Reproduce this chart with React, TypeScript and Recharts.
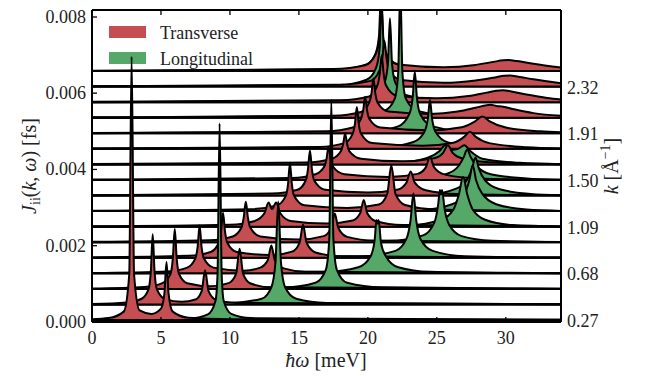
import { ComposedChart, Area, XAxis, YAxis } from "recharts";

// wave numbers of the 17 curves, bottom to top [1/Å]
const kValues = [0.27, 0.41, 0.54, 0.68, 0.82, 0.95, 1.09, 1.23, 1.37, 1.5, 1.64, 1.78, 1.91, 2.05, 2.19, 2.32, 2.46];

// J(k, w), [w meV, J in 1e-4 fs], one list per k
const transverse: number[][][] = [
  [[0, 0.2], [1.2, 0.5], [2.3, 2.2], [2.7, 12], [2.87, 69], [3.05, 12], [3.45, 2.5], [4.3, 1.6], [5.0, 3], [5.25, 7], [5.4, 15.2], [5.55, 7], [5.85, 2.2], [7, 0.6], [10, 0.2], [34, 0.05]],
  [[0, 0.1], [2.5, 0.5], [3.6, 1.5], [4.1, 4], [4.27, 9], [4.4, 18.4], [4.53, 9], [4.7, 4], [5.3, 1.4], [6.5, 0.7], [7.5, 1.3], [7.95, 3.5], [8.2, 9], [8.45, 3.5], [9, 1.2], [10.5, 0.4], [34, 0.05]],
  [[0, 0.1], [3.8, 0.5], [5.1, 1.5], [5.7, 4], [5.86, 8], [6.0, 15.7], [6.14, 8], [6.3, 4], [6.9, 1.5], [8.6, 0.7], [9.9, 1.5], [10.45, 4], [10.7, 10.5], [10.95, 4], [11.5, 1.4], [13, 0.4], [34, 0.05]],
  [[0, 0.1], [5.5, 0.5], [6.9, 1.5], [7.5, 4], [7.66, 7], [7.8, 12.6], [7.94, 7], [8.1, 4], [8.8, 1.5], [11, 0.7], [12.2, 1.5], [12.75, 3.5], [13.0, 7.3], [13.25, 3.5], [13.9, 1.3], [15.5, 0.4], [34, 0.05]],
  [[0, 0.1], [7, 0.5], [8.6, 1.5], [9.2, 4], [9.36, 7], [9.5, 11.8], [9.64, 7], [9.8, 4], [10.5, 1.5], [13, 0.7], [14.5, 1.6], [15.05, 4], [15.3, 8.7], [15.55, 4], [16.2, 1.4], [18, 0.4], [34, 0.05]],
  [[0, 0.1], [8.5, 0.5], [10.2, 1.5], [10.85, 4], [11.0, 6.5], [11.15, 10.6], [11.3, 6.5], [11.45, 4], [12.2, 1.5], [15, 0.7], [16.8, 1.6], [17.35, 3.8], [17.6, 7.5], [17.85, 3.8], [18.5, 1.4], [20.5, 0.4], [34, 0.05]],
  [[0, 0.1], [10, 0.5], [11.8, 1.5], [12.5, 3.5], [12.8, 6.3], [13.05, 4.6], [13.35, 6.3], [13.65, 3.5], [14.4, 1.5], [17, 0.8], [18.9, 1.6], [19.45, 3.6], [19.7, 7], [19.95, 3.6], [20.6, 1.4], [22.5, 0.4], [34, 0.05]],
  [[0, 0.1], [11.5, 0.5], [13.4, 1.5], [14.05, 4], [14.21, 7], [14.35, 12.6], [14.49, 7], [14.65, 4], [15.4, 1.5], [18.5, 0.8], [20.8, 1.7], [21.4, 4.5], [21.7, 12], [22.0, 4.5], [22.7, 1.6], [25, 0.4], [34, 0.05]],
  [[0, 0.1], [13, 0.5], [14.9, 1.5], [15.5, 4], [15.66, 7], [15.8, 11.8], [15.94, 7], [16.1, 4], [16.9, 1.5], [20, 0.8], [22.2, 1.6], [22.8, 3.4], [23.1, 6.3], [23.4, 3.4], [24.2, 1.4], [26.5, 0.4], [34, 0.05]],
  [[0, 0.1], [14.5, 0.5], [16.2, 1.5], [16.85, 3.6], [17.0, 5.5], [17.15, 8.7], [17.3, 5.5], [17.45, 3.6], [18.3, 1.5], [21.5, 0.8], [23.6, 1.6], [24.2, 3.3], [24.5, 6], [24.8, 3.3], [25.6, 1.4], [28, 0.4], [34, 0.05]],
  [[0, 0.1], [15.5, 0.5], [17.4, 1.5], [18.05, 3.5], [18.2, 5.2], [18.35, 8.1], [18.5, 5.2], [18.65, 3.5], [19.5, 1.5], [22.5, 0.8], [24.8, 1.6], [25.45, 3], [25.8, 5], [26.15, 3], [27, 1.4], [29.5, 0.4], [34, 0.05]],
  [[0, 0.1], [16.5, 0.5], [18.3, 1.5], [18.9, 4], [19.06, 6.5], [19.2, 11], [19.34, 6.5], [19.5, 4], [20.3, 1.5], [24, 0.8], [26.2, 1.6], [27.0, 3.2], [27.4, 4.5], [27.8, 3.2], [28.8, 1.5], [31.5, 0.4], [34, 0.1]],
  [[0, 0.1], [17, 0.5], [18.9, 1.5], [19.5, 3.8], [19.66, 6], [19.8, 9.6], [19.94, 6], [20.1, 3.8], [20.9, 1.5], [24.5, 0.8], [26.8, 1.6], [27.8, 3.2], [28.3, 4.4], [28.8, 3.2], [30, 1.5], [32.5, 0.5], [34, 0.3]],
  [[0, 0.1], [17.5, 0.5], [19.5, 1.5], [20.1, 4], [20.26, 6.3], [20.4, 10.3], [20.54, 6.3], [20.7, 4], [21.5, 1.6], [24.5, 1.0], [26.5, 1.6], [27.8, 2.6], [28.5, 3.2], [28.9, 3.4], [29.3, 3.1], [29.8, 2.9], [30.6, 2.2], [32, 1.2], [34, 0.5]],
  [[0, 0.1], [18, 0.5], [20.1, 1.5], [20.7, 4.5], [20.86, 7.5], [21.0, 12.3], [21.14, 7.5], [21.3, 4.5], [22.1, 1.7], [25, 1.0], [27.3, 1.6], [28.6, 2.5], [29.3, 3], [29.8, 3.1], [30.4, 2.8], [31.5, 2.0], [33, 1.1], [34, 0.7]],
  [[0, 0.1], [18, 0.5], [20.2, 1.5], [20.85, 4.3], [21.05, 7.5], [21.2, 12], [21.35, 7.5], [21.55, 4.3], [22.4, 1.7], [25.5, 1.0], [27.8, 1.6], [29.2, 2.4], [29.9, 2.85], [30.3, 2.9], [30.9, 2.6], [32, 1.9], [34, 0.9]],
  [[0, 0.1], [17.5, 0.5], [19.8, 1.5], [20.5, 4], [20.75, 6.5], [20.9, 10], [21.05, 6.5], [21.3, 4], [22.2, 1.7], [25.5, 1.0], [27.8, 1.6], [29.1, 2.4], [29.8, 2.8], [30.2, 2.9], [30.8, 2.6], [32, 1.9], [34, 0.9]],
];

const longitudinal: number[][][] = [
  [[0, 0], [7, 0.4], [8.4, 1.5], [8.95, 5], [9.1, 12], [9.25, 51.5], [9.4, 12], [9.55, 5], [10.1, 1.6], [11.5, 0.5], [34, 0.05]],
  [[0, 0], [10, 0.4], [12.3, 1.5], [13.0, 4.5], [13.3, 11], [13.5, 27], [13.7, 11], [14.0, 4.5], [14.8, 1.5], [17, 0.4], [34, 0.05]],
  [[0, 0], [14, 0.4], [16.2, 1.6], [16.95, 5], [17.2, 13], [17.35, 49.5], [17.5, 13], [17.75, 5], [18.5, 1.6], [21, 0.4], [34, 0.05]],
  [[0, 0], [17, 0.4], [19.3, 1.6], [20.2, 4.5], [20.5, 9], [20.62, 14], [20.7, 13], [20.78, 14], [20.95, 8], [21.3, 4.5], [22.2, 1.6], [24.5, 0.4], [34, 0.05]],
  [[0, 0], [19.5, 0.4], [22, 1.8], [22.8, 5], [23.1, 10], [23.3, 16.9], [23.5, 10], [23.8, 5], [24.7, 1.8], [27, 0.4], [34, 0.05]],
  [[0, 0], [21.5, 0.4], [24, 1.8], [24.8, 5], [25.1, 10], [25.22, 13.7], [25.3, 12.5], [25.38, 13.7], [25.55, 9], [25.9, 4.5], [26.8, 1.6], [29, 0.4], [34, 0.05]],
  [[0, 0], [23, 0.4], [25.3, 1.8], [26.2, 4.5], [26.6, 8.5], [26.9, 13], [27.2, 8.5], [27.6, 4.5], [28.5, 1.8], [30.5, 0.4], [34, 0.05]],
  [[0, 0], [24, 0.4], [26.1, 1.8], [27.0, 4.5], [27.35, 8], [27.6, 12], [27.85, 8], [28.3, 4.5], [29.3, 1.8], [31.5, 0.4], [34, 0.05]],
  [[0, 0], [24.5, 0.4], [26.4, 1.8], [27.2, 4.2], [27.55, 7], [27.8, 10], [28.05, 7], [28.5, 4], [29.5, 1.7], [31.8, 0.4], [34, 0.05]],
  [[0, 0], [24, 0.4], [25.8, 1.7], [26.6, 3.8], [26.95, 6], [27.2, 8], [27.45, 6], [27.9, 3.6], [28.9, 1.5], [31.5, 0.4], [34, 0.05]],
  [[0, 0], [22, 0.4], [24.3, 1.7], [25.2, 3.5], [25.6, 5], [26.1, 3.8], [26.5, 4], [27.0, 5], [27.4, 3.6], [28.3, 1.5], [31, 0.4], [34, 0.05]],
  [[0, 0], [21, 0.4], [23.3, 1.8], [24.1, 4.5], [24.35, 8], [24.5, 12.8], [24.65, 8], [24.9, 4.5], [25.8, 1.7], [28.5, 0.4], [34, 0.05]],
  [[0, 0], [20, 0.4], [22.2, 1.8], [23.0, 5], [23.25, 9.5], [23.4, 16.2], [23.55, 9.5], [23.8, 5], [24.7, 1.8], [27.5, 0.4], [34, 0.05]],
  [[0, 0], [19, 0.4], [21.2, 1.8], [21.95, 5], [22.2, 12], [22.35, 35], [22.5, 12], [22.75, 5], [23.6, 1.8], [26.5, 0.4], [34, 0.05]],
  [[0, 0], [18.5, 0.4], [20.5, 1.8], [21.2, 5], [21.45, 10], [21.6, 22], [21.75, 10], [22.0, 5], [22.8, 1.8], [25.5, 0.4], [34, 0.05]],
  [[0, 0], [18, 0.4], [19.9, 1.8], [20.6, 5], [20.85, 10], [21.0, 22], [21.15, 10], [21.4, 5], [22.2, 1.8], [25, 0.4], [34, 0.05]],
  [[0, 0], [18, 0.4], [19.9, 1.7], [20.55, 4.5], [20.8, 9], [20.95, 20], [21.1, 9], [21.35, 4.5], [22.2, 1.7], [25, 0.4], [34, 0.05]],
];

const xTicks = [0, 5, 10, 15, 20, 25, 30];
const yTicks = [0, 20, 40, 60, 80]; // 1e-4 fs
const kTickIdx = [0, 3, 6, 9, 12, 15];

// waterfall offsets (1e-4 fs)
const BASE0 = 0.52;
const STEP = 4.08;
const baseOf = (i: number) => BASE0 + STEP * i;

const RED = "#C44E52";
const GREEN = "#55A868";
const FONT = "'Liberation Serif', 'DejaVu Serif', serif";

// plot box in chart coords
const PL = 84, PR = 553, PT = 2, PB = 314;

const toRows = (pts: number[][], base: number) =>
  pts.map(([w, j]) => ({ w, band: [base, base + j] }));

const LeftTick = ({ y, payload }: any) => (
  <g>
    <line x1={PL} x2={PL + 5} y1={y} y2={y} stroke="#000" strokeWidth={1.3} />
    <text x={PL - 6} y={y + 6} textAnchor="end" fontSize={18} fontFamily={FONT} fill="#222">
      {(payload.value / 1e4).toFixed(3)}
    </text>
  </g>
);

const BottomTick = ({ x, payload }: any) => (
  <g>
    <line x1={x} x2={x} y1={PB} y2={PB - 5} stroke="#000" strokeWidth={1.3} />
    <text x={x} y={PB + 22} textAnchor="middle" fontSize={18} fontFamily={FONT} fill="#222">
      {payload.value}
    </text>
  </g>
);

const TopTick = ({ x }: any) => (
  <line x1={x} x2={x} y1={PT} y2={PT + 5} stroke="#000" strokeWidth={1.3} />
);

const RightTick = ({ y, payload }: any) => {
  const i = Math.round((payload.value - BASE0) / STEP);
  return (
    <text x={PR + 6} y={y + 7} textAnchor="start" fontSize={18} fontFamily={FONT} fill="#222">
      {kValues[i].toFixed(2)}
    </text>
  );
};

export default function App() {
  const order = kValues.map((_, i) => kValues.length - 1 - i);

  return (
    <ComposedChart width={630} height={368} margin={{ top: 1, right: 0, bottom: 0, left: 0 }}>
      <XAxis dataKey="w" type="number" domain={[0, 34]} ticks={xTicks} allowDataOverflow
        height={54} tickSize={0} tickLine={false} tick={<BottomTick />}
        axisLine={{ stroke: "#000", strokeWidth: 2 }} />
      <XAxis xAxisId="top" dataKey="w" type="number" orientation="top" domain={[0, 34]} ticks={xTicks}
        allowDataOverflow height={1} tickSize={0} tickLine={false} tick={<TopTick />}
        axisLine={{ stroke: "#000", strokeWidth: 2 }} />
      <YAxis yAxisId="left" type="number" domain={[0, 81.8]} ticks={yTicks} allowDataOverflow
        width={84} tickSize={0} tickLine={false} tick={<LeftTick />}
        axisLine={{ stroke: "#000", strokeWidth: 2 }} />
      <YAxis yAxisId="right" orientation="right" type="number" domain={[0, 81.8]}
        ticks={kTickIdx.map(baseOf)} allowDataOverflow width={77} tickSize={0} tickLine={false}
        tick={<RightTick />} axisLine={{ stroke: "#000", strokeWidth: 2 }} />

      {order.flatMap((i) => [
        <Area key={`L${i}`} data={toRows(longitudinal[i], baseOf(i))} dataKey="band"
          xAxisId="top" yAxisId="right" type="monotone" stroke="#000" strokeWidth={2}
          fill={GREEN} fillOpacity={1} dot={false} activeDot={false} isAnimationActive={false} />,
        <Area key={`T${i}`} data={toRows(transverse[i], baseOf(i))} dataKey="band"
          yAxisId="left" type="monotone" stroke="#000" strokeWidth={2}
          fill={RED} fillOpacity={1} dot={false} activeDot={false} isAnimationActive={false} />,
      ])}

      <g fontFamily={FONT} fill="#222">
        <rect x={101} y={18} width={37} height={12} fill={RED} />
        <text x={152} y={31} fontSize={18}>Transverse</text>
        <rect x={101} y={44} width={37} height={12} fill={GREEN} />
        <text x={152} y={57} fontSize={18}>Longitudinal</text>

        <text x={318} y={359} textAnchor="middle" fontSize={20}>
          <tspan fontStyle="italic">ħω</tspan> [meV]
        </text>
        <text transform="translate(28,158) rotate(-90)" textAnchor="middle" fontSize={20}>
          <tspan fontStyle="italic">J</tspan>
          <tspan fontSize={14} dy={4}>ii</tspan>
          <tspan dy={-4}>(</tspan>
          <tspan fontStyle="italic">k</tspan>
          <tspan>, </tspan>
          <tspan fontStyle="italic">ω</tspan>
          <tspan>) [fs]</tspan>
        </text>
        <text transform="translate(610,158) rotate(-90)" textAnchor="middle" fontSize={20}>
          <tspan fontStyle="italic">k</tspan>
          <tspan> [Å</tspan>
          <tspan fontSize={14} dy={-8}>−1</tspan>
          <tspan dy={8}>]</tspan>
        </text>
      </g>
    </ComposedChart>
  );
}
